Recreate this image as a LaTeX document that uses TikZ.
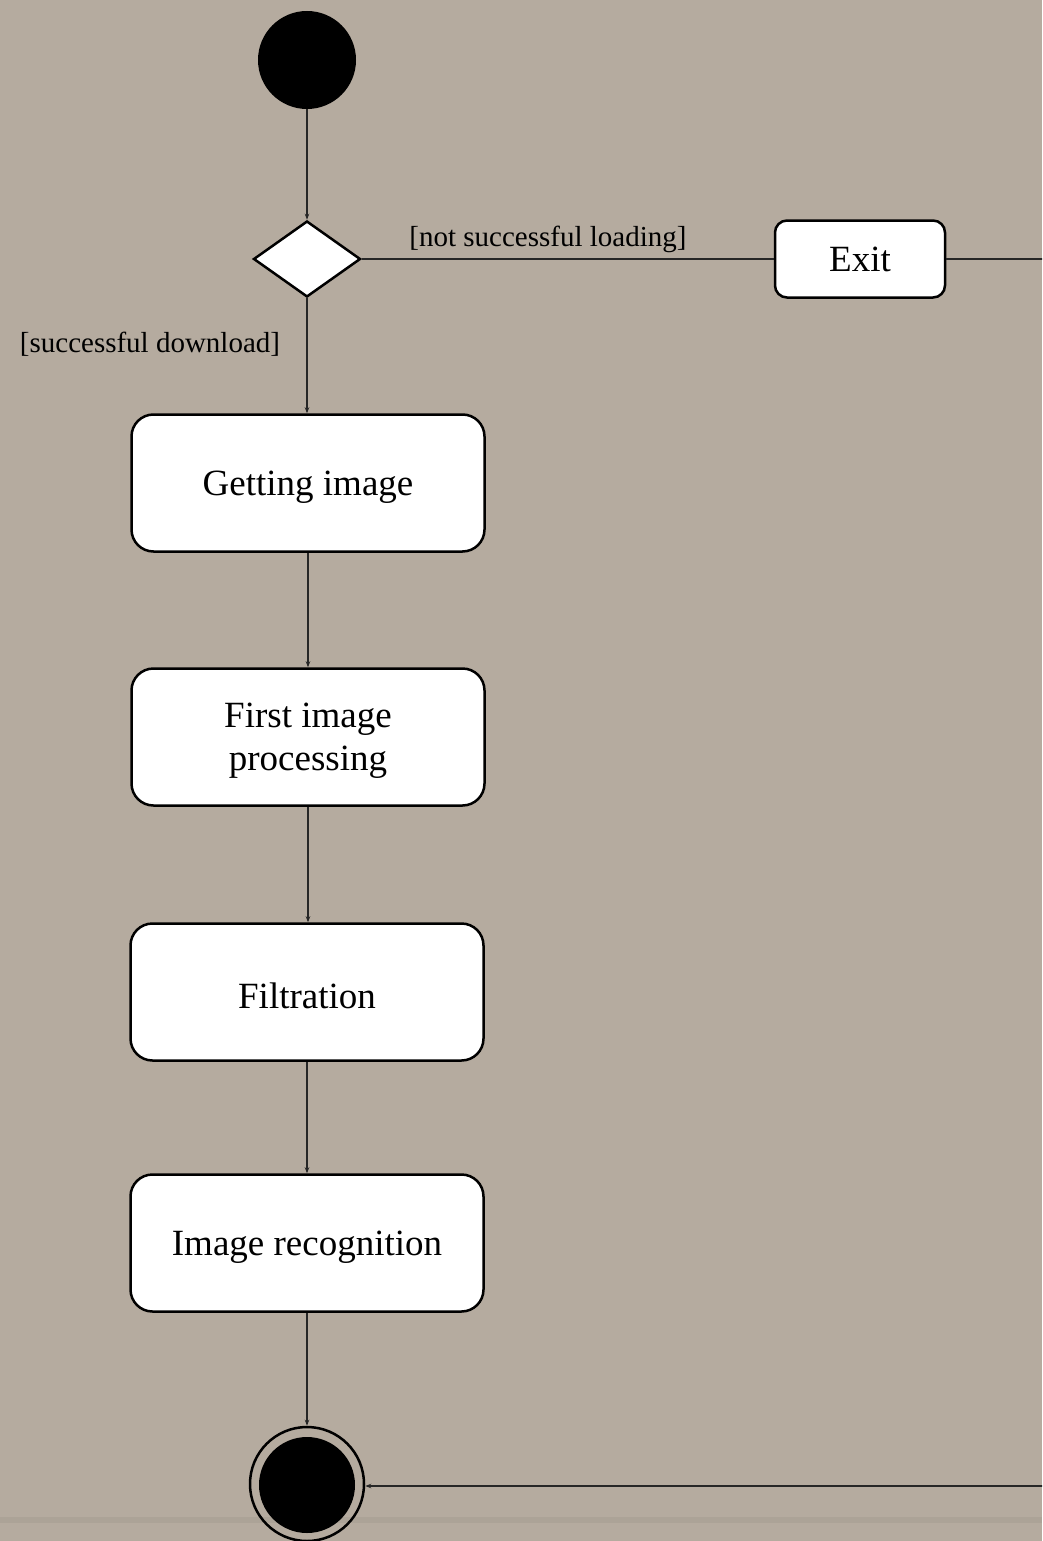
\documentclass[tikz,border=0pt]{standalone}
\usepackage{fontspec}
\setmainfont{Liberation Serif}
\usetikzlibrary{shapes.geometric,arrows.meta}
\definecolor{paper}{RGB}{181,171,159}
\definecolor{band}{RGB}{160,151,141}
\newcommand{\lowtext}[1]{\raisebox{-4pt}[\height][\depth]{#1}}
\tikzset{
  act/.style={draw=black, fill=white, line width=2.5pt, rounded corners=22pt,
    minimum width=353pt, minimum height=137pt, align=center,
    font=\fontsize{37}{43}\selectfont, inner sep=0pt},
  exitbox/.style={draw=black, fill=white, line width=2.5pt, rounded corners=12pt,
    minimum width=170pt, minimum height=77pt, font=\fontsize{37}{43}\selectfont, inner sep=0pt},
  flow/.style={line width=1.1pt, draw={black!85}, -{Stealth[length=6pt,width=4.5pt]}},
  plain/.style={line width=1.1pt, draw={black!85}},
  guard/.style={font=\fontsize{29}{34}\selectfont, inner sep=0pt}
}
\begin{document}
\begin{tikzpicture}[x=1pt,y=-1pt]
\clip (0,0) rectangle (1042,1541);
\fill[paper] (0,0) rectangle (1042,1541);
\draw[band, line width=6pt, opacity=0.4] (0,1520) -- (1042,1520);

\node[circle, fill=black, minimum size=98pt, inner sep=0pt] (start) at (307,60) {};
\node[diamond, draw=black, fill=white, line width=2.5pt, minimum width=107pt, minimum height=76pt, inner sep=0pt, aspect=1.4] (dec) at (307,259) {};
\node[exitbox] (exit) at (860,259) {Exit};
\node[act] (get) at (308,483) {\lowtext{Getting image}};
\node[act] (first) at (308,737) {\lowtext{First image}\\\lowtext{processing}};
\node[act] (filt) at (307,992) {\lowtext{Filtration}};
\node[act] (recog) at (307,1243) {\lowtext{Image recognition}};
\node[circle, draw=black, line width=2.5pt, minimum size=114pt, inner sep=0pt] (endo) at (307,1484) {};
\node[circle, fill=black, minimum size=96pt, inner sep=0pt] (endi) at (307,1485) {};
\coordinate (rtop) at (1060,259);
\coordinate (rbot) at (1060,1486);

\node[guard] (lnot) at (548,239) {[not successful loading]};
\node[guard] (lsucc) at (150,344) {[successful download]};

\draw[flow] (start) -- (dec.north);
\draw[plain] (dec.east) -- (exit.west);
\draw[flow] (dec.south) -- (dec.south |- get.north);
\draw[flow] (get.south) -- (get.south |- first.north);
\draw[flow] (first.south) -- (first.south |- filt.north);
\draw[flow] (filt.south) -- (recog.north);
\draw[flow] (recog.south) -- (endo.north);
\draw[flow] (exit.east) -- (rtop) -- (rbot) -- (endo.east |- rbot);
\end{tikzpicture}
\end{document}
